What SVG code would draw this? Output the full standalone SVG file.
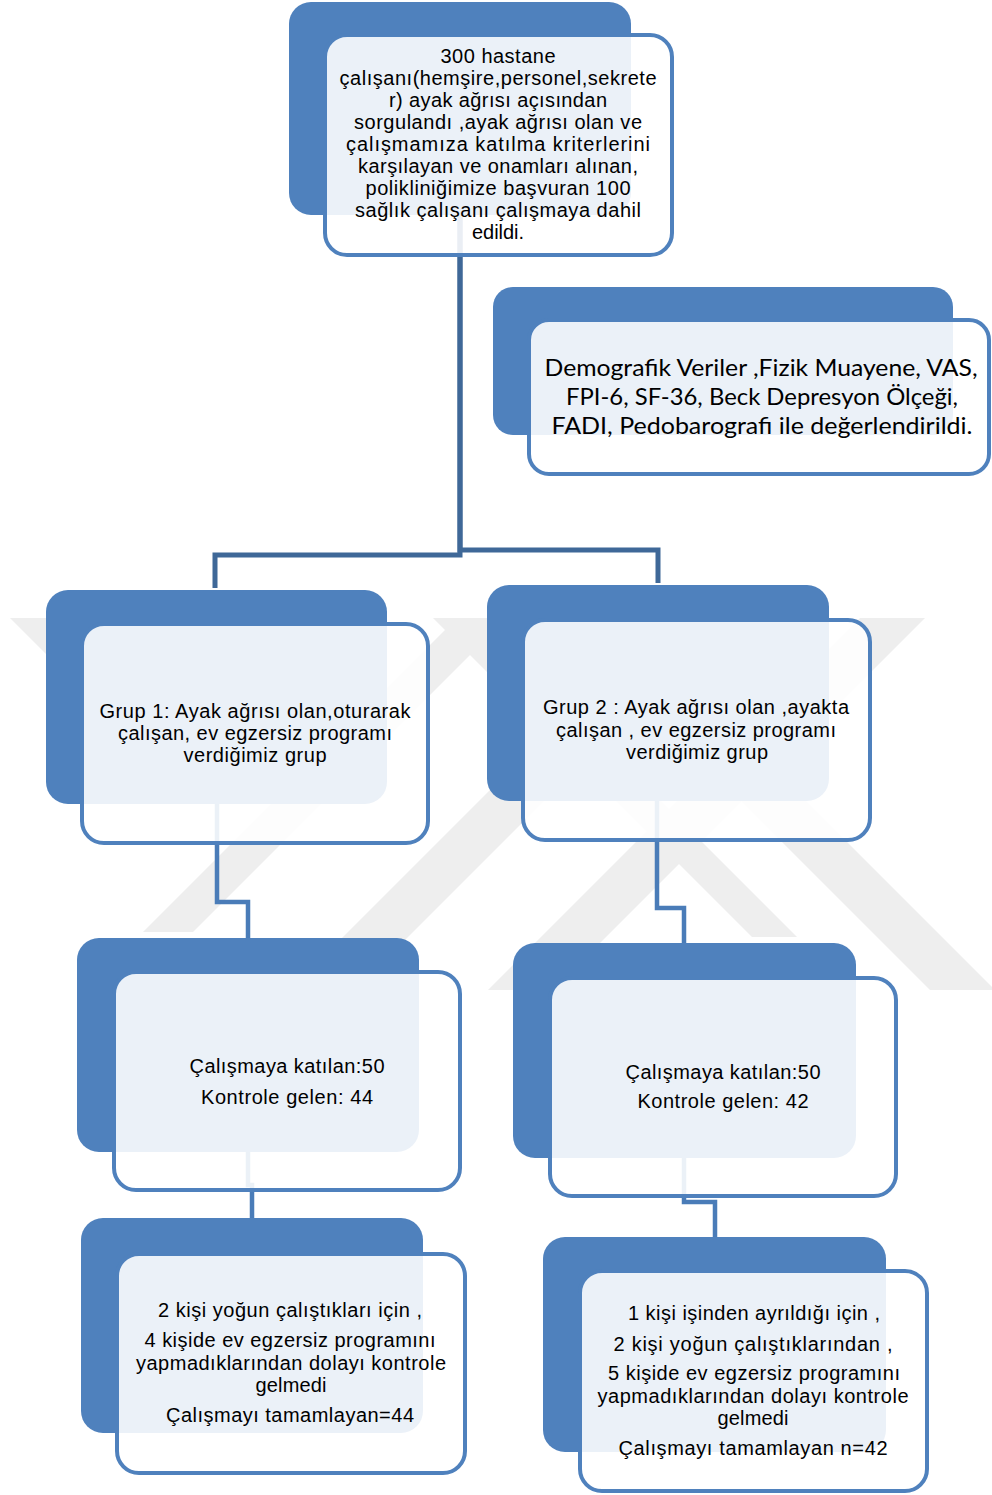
<svg xmlns="http://www.w3.org/2000/svg" width="992" height="1495" viewBox="0 0 992 1495">
<style>
.back{fill:#4F81BD}
.front{fill:#FFFFFF;fill-opacity:0.89;stroke:#4F81BD;stroke-width:4}
.t{font-family:"Liberation Sans",Arial,sans-serif;font-size:20px;fill:#000;text-anchor:middle}
.c{font-family:Lato,"Noto Sans","Liberation Sans",sans-serif;font-size:23px;fill:#000;text-anchor:middle}
.conn1{fill:none;stroke:#3F6898;stroke-width:5}
.conn2{fill:none;stroke:#4A7CB8;stroke-width:4.5}
.wm{fill:#EEEEEE}
</style>
<rect x="0" y="0" width="992" height="1495" fill="#FFFFFF"/>
<g id="watermark">
<polygon class="wm" points="457,618 507,618 193,932 143,932"/>
<polygon class="wm" points="662,618 727,618 355,990 290,990"/>
<polygon class="wm" points="860,618 925,618 553,990 488,990"/>
<polygon class="wm" points="10,618 73,618 135,680 72,680"/>
<polygon class="wm" points="433,618 478,618 797,937 752,937"/>
<polygon class="wm" points="558,618 623,618 995,990 930,990"/>
</g>
<g id="connectors">
<path class="conn1" d="M460,215 V555 H215 V588"/>
<path class="conn1" d="M460,215 V550 H658 V583"/>
<path class="conn2" d="M217,804 V902 H248 V938"/>
<path class="conn2" d="M657,801 V908 H684 V943"/>
<path class="conn2" d="M248,1152 V1185 H252 V1218"/>
<path class="conn2" d="M684,1158 V1202 H715 V1237"/>
</g>
<g id="n1">
<rect class="back" x="289" y="2" width="342" height="213" rx="22"/>
<rect class="front" x="325" y="35" width="347" height="220" rx="22"/>
<text class="t" x="498" y="63" textLength="115" lengthAdjust="spacing">300 hastane</text>
<text class="t" x="498" y="85" textLength="317" lengthAdjust="spacing">çalışanı(hemşire,personel,sekrete</text>
<text class="t" x="498" y="107" textLength="218" lengthAdjust="spacing">r) ayak ağrısı açısından</text>
<text class="t" x="498" y="129" textLength="288" lengthAdjust="spacing">sorgulandı ,ayak ağrısı olan ve</text>
<text class="t" x="498" y="151" textLength="304" lengthAdjust="spacing">çalışmamıza katılma kriterlerini</text>
<text class="t" x="498" y="173" textLength="280" lengthAdjust="spacing">karşılayan ve onamları alınan,</text>
<text class="t" x="498" y="195" textLength="265" lengthAdjust="spacing">polikliniğimize başvuran 100</text>
<text class="t" x="498" y="217" textLength="286" lengthAdjust="spacing">sağlık çalışanı çalışmaya dahil</text>
<text class="t" x="498" y="239" textLength="52" lengthAdjust="spacing">edildi.</text>
</g>
<g id="n2">
<rect class="back" x="493" y="287" width="460" height="148" rx="20"/>
<rect class="front" x="529" y="320" width="460" height="154" rx="20"/>
<text class="c" x="761" y="376" textLength="433" lengthAdjust="spacingAndGlyphs">Demografik Veriler ,Fizik Muayene, VAS,</text>
<text class="c" x="762" y="405" textLength="392" lengthAdjust="spacingAndGlyphs">FPI-6, SF-36, Beck Depresyon Ölçeği,</text>
<text class="c" x="762" y="434" textLength="421" lengthAdjust="spacingAndGlyphs">FADI, Pedobarografi ile değerlendirildi.</text>
</g>
<g id="n3">
<rect class="back" x="46" y="590" width="341" height="214" rx="22"/>
<rect class="front" x="82" y="624" width="346" height="219" rx="22"/>
<text class="t" x="255" y="718" textLength="311" lengthAdjust="spacing">Grup 1: Ayak ağrısı olan,oturarak</text>
<text class="t" x="255" y="740" textLength="274" lengthAdjust="spacing">çalışan, ev egzersiz programı</text>
<text class="t" x="255" y="762" textLength="143" lengthAdjust="spacing">verdiğimiz grup</text>
</g>
<g id="n4">
<rect class="back" x="487" y="585" width="342" height="216" rx="22"/>
<rect class="front" x="523" y="620" width="347" height="220" rx="22"/>
<text class="t" x="696" y="714" textLength="306" lengthAdjust="spacing">Grup 2 : Ayak ağrısı olan ,ayakta</text>
<text class="t" x="696" y="737" textLength="280" lengthAdjust="spacing">çalışan , ev egzersiz programı</text>
<text class="t" x="697" y="759" textLength="142" lengthAdjust="spacing">verdiğimiz grup</text>
</g>
<g id="n5">
<rect class="back" x="77" y="938" width="342" height="214" rx="22"/>
<rect class="front" x="114" y="972" width="346" height="218" rx="22"/>
<text class="t" x="287" y="1073" textLength="195" lengthAdjust="spacing">Çalışmaya katılan:50</text>
<text class="t" x="287" y="1104" textLength="172" lengthAdjust="spacing">Kontrole gelen: 44</text>
</g>
<g id="n6">
<rect class="back" x="513" y="943" width="343" height="215" rx="22"/>
<rect class="front" x="550" y="978" width="346" height="218" rx="22"/>
<text class="t" x="723" y="1079" textLength="195" lengthAdjust="spacing">Çalışmaya katılan:50</text>
<text class="t" x="723" y="1108" textLength="171" lengthAdjust="spacing">Kontrole gelen: 42</text>
</g>
<g id="n7">
<rect class="back" x="81" y="1218" width="342" height="215" rx="22"/>
<rect class="front" x="117" y="1254" width="348" height="219" rx="22"/>
<text class="t" x="290" y="1317" textLength="264" lengthAdjust="spacing">2 kişi yoğun çalıştıkları için ,</text>
<text class="t" x="290" y="1347" textLength="291" lengthAdjust="spacing">4 kişide ev egzersiz programını</text>
<text class="t" x="291" y="1370" textLength="310" lengthAdjust="spacing">yapmadıklarından dolayı kontrole</text>
<text class="t" x="291" y="1392" textLength="71" lengthAdjust="spacing">gelmedi</text>
<text class="t" x="290" y="1422" textLength="248" lengthAdjust="spacing">Çalışmayı tamamlayan=44</text>
</g>
<g id="n8">
<rect class="back" x="543" y="1237" width="343" height="215" rx="22"/>
<rect class="front" x="580" y="1271" width="347" height="220" rx="22"/>
<text class="t" x="754" y="1320" textLength="252" lengthAdjust="spacing">1 kişi işinden ayrıldığı için ,</text>
<text class="t" x="753" y="1351" textLength="279" lengthAdjust="spacing">2 kişi yoğun çalıştıklarından ,</text>
<text class="t" x="754" y="1380" textLength="292" lengthAdjust="spacing">5 kişide ev egzersiz programını</text>
<text class="t" x="753" y="1403" textLength="311" lengthAdjust="spacing">yapmadıklarından dolayı kontrole</text>
<text class="t" x="753" y="1425" textLength="71" lengthAdjust="spacing">gelmedi</text>
<text class="t" x="753" y="1455" textLength="269" lengthAdjust="spacing">Çalışmayı tamamlayan n=42</text>
</g>
</svg>
